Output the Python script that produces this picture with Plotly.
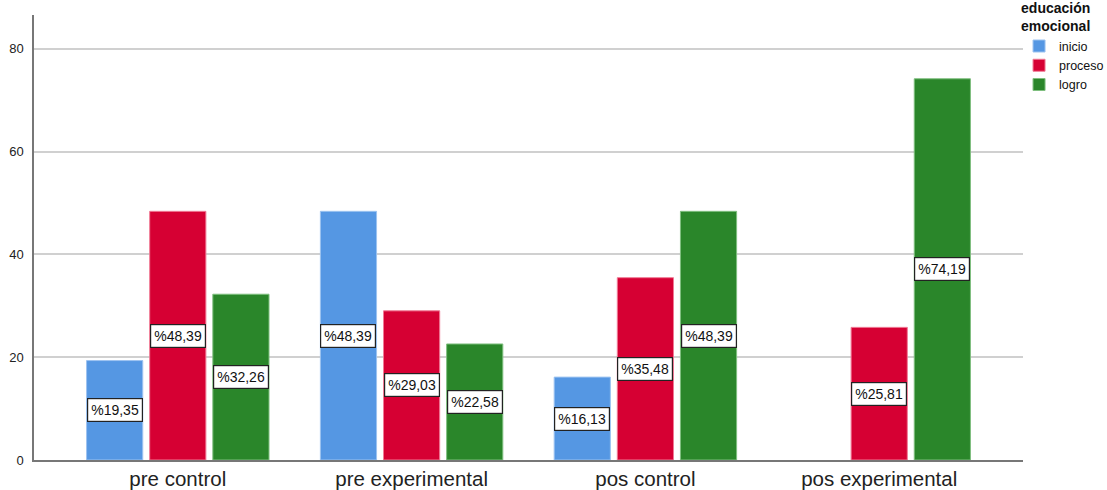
import plotly.graph_objects as go

categories = ["pre control", "pre experimental", "pos control", "pos experimental"]
series_names = ["inicio", "proceso", "logro"]
inicio = [19.35, 48.39, 16.13, 0]
proceso = [48.39, 29.03, 35.48, 25.81]
logro = [32.26, 22.58, 48.39, 74.19]
y_ticks = [0, 20, 40, 60, 80]
legend_title = "educación<br>emocional"

colors = ["#5597E3", "#D60033", "#2A862A"]
edge = ["#9CC3F0", "#F07A95", "#7FBF7F"]

BARGAP = 0.19
fig = go.Figure()
all_series = [inicio, proceso, logro]
for name, vals, c, e in zip(series_names, all_series, colors, edge):
    fig.add_trace(go.Bar(
        x=categories, y=[v if v else None for v in vals], name=name,
        marker=dict(color=c, line=dict(color=e, width=1)),
        hoverinfo="x+y",
    ))

slot = (1 - BARGAP) / len(all_series)
annotations = []
for k, vals in enumerate(all_series):
    for i, v in enumerate(vals):
        if v == 0:
            continue
        annotations.append(dict(
            x=i + (k - (len(all_series) - 1) / 2) * slot, y=v / 2,
            xref="x", yref="y",
            text="%" + f"{v:.2f}".replace(".", ","),
            showarrow=False,
            font=dict(family="Liberation Sans, Arial", size=14, color="#111"),
            bgcolor="white", bordercolor="#222", borderwidth=1.2, borderpad=3,
        ))

fig.update_layout(
    barmode="group", bargap=BARGAP, bargroupgap=0.11,
    width=1107, height=490,
    margin=dict(l=34, r=84, t=15, b=30, autoexpand=False),
    paper_bgcolor="white", plot_bgcolor="white",
    font=dict(family="Liberation Sans, Arial", color="#222"),
    annotations=annotations,
    showlegend=True,
    legend=dict(
        title=dict(text="<b>" + legend_title + "</b>", font=dict(size=14, color="#111")),
        x=0.996, xanchor="left", y=1.045, yanchor="top",
        font=dict(size=12.5, color="#111"),
        itemwidth=30, tracegroupgap=0,
        bgcolor="rgba(0,0,0,0)",
    ),
    xaxis=dict(
        range=[-0.615, 3.615], showgrid=False,
        showline=True, linecolor="#777", linewidth=1.5,
        ticks="", tickfont=dict(size=20.5, color="#222"),
        fixedrange=True,
    ),
    yaxis=dict(
        range=[0, 86.6], tickvals=y_ticks, showgrid=True, gridcolor="#D0D0D0", gridwidth=1.5,
        showline=True, linecolor="#777", linewidth=1.5,
        ticks="", tickfont=dict(size=13, color="#222"), zeroline=False,
        ticklabelstandoff=6, fixedrange=True,
    ),
)

fig.write_html(
    "out.html",
    config={"displayModeBar": False},
    post_script="document.body.style.margin='0';document.body.style.overflow='hidden';",
)
